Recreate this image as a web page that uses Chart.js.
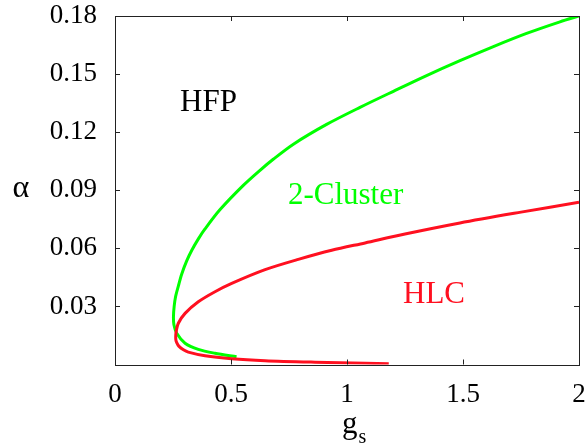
<!DOCTYPE html>
<html>
<head>
<meta charset="utf-8">
<script src="https://cdn.jsdelivr.net/npm/chart.js@4/dist/chart.umd.min.js"></script>
<style>
  html, body { margin: 0; padding: 0; background: #fff; }
  #wrap { width: 586px; height: 446px; position: relative; }
</style>
</head>
<body>
<div id="wrap"><canvas id="grafFase"></canvas></div>
<script>
// datos (g_s, alpha)
const xTicks = [0, 0.5, 1, 1.5, 2];
const yTicks = [0.03, 0.06, 0.09, 0.12, 0.15, 0.18];

const clusterGs = [0.524, 0.431, 0.359, 0.302, 0.266, 0.254, 0.252, 0.255, 0.261, 0.273, 0.287, 0.309, 0.331, 0.36, 0.388, 0.453, 0.553, 0.625, 0.682, 0.769, 0.912, 1.056, 1.2, 1.343, 1.487, 1.631, 1.774, 1.918, 2.0];
const clusterAlpha = [0.0040, 0.0058, 0.0078, 0.0110, 0.0161, 0.0205, 0.0247, 0.0300, 0.0350, 0.0405, 0.0465, 0.0535, 0.0590, 0.0650, 0.0700, 0.0800, 0.0925, 0.1003, 0.1060, 0.1138, 0.1240, 0.1328, 0.1411, 0.1492, 0.1569, 0.1642, 0.1710, 0.1770, 0.1800];

const hlcGs = [2.0, 1.75, 1.487, 1.25, 1.078, 0.934, 0.79, 0.647, 0.503, 0.431, 0.359, 0.302, 0.273, 0.263, 0.262, 0.266, 0.275, 0.295, 0.316, 0.388, 0.503, 0.647, 0.862, 1.078, 1.18];
const hlcAlpha = [0.0838, 0.0787, 0.0731, 0.0674, 0.0628, 0.0590, 0.0543, 0.0490, 0.0419, 0.0376, 0.0324, 0.0264, 0.0213, 0.0165, 0.0130, 0.0113, 0.0095, 0.0076, 0.0064, 0.0045, 0.0030, 0.0020, 0.0012, 0.0006, 0.0004];

const etiquetas = [
  { text: "HFP", x: 0.403, y: 0.1353, color: "#000" },
  { text: "2-Cluster", x: 0.994, y: 0.0870, color: "#00ff00" },
  { text: "HLC", x: 1.375, y: 0.0359, color: "#ff1020" },
];

const FONT = "'Liberation Serif', 'Times New Roman', serif";
const toPts = (xs, ys) => xs.map((x, i) => ({ x, y: ys[i] }));

// marco, ticks hacia adentro, etiquetas de regiones y titulo g_s
const marcoPlugin = {
  id: "marco",
  afterDraw(chart) {
    const { ctx, chartArea: a, scales } = chart;
    const sx = scales.x, sy = scales.y;
    ctx.save();
    ctx.strokeStyle = "#222";
    ctx.lineWidth = 1;
    ctx.beginPath();
    xTicks.forEach((v) => {
      const px = Math.round(sx.getPixelForValue(v)) + 0.5;
      ctx.moveTo(px, a.bottom); ctx.lineTo(px, a.bottom - 5);
      ctx.moveTo(px, a.top); ctx.lineTo(px, a.top + 5);
    });
    yTicks.forEach((v) => {
      const py = Math.round(sy.getPixelForValue(v)) + 0.5;
      ctx.moveTo(a.left, py); ctx.lineTo(a.left + 5, py);
      ctx.moveTo(a.right, py); ctx.lineTo(a.right - 5, py);
    });
    ctx.stroke();
    ctx.strokeRect(Math.round(a.left) + 0.5, Math.round(a.top) + 0.5,
      Math.round(a.right - a.left), Math.round(a.bottom - a.top));

    ctx.textAlign = "center";
    ctx.textBaseline = "middle";
    ctx.font = "31px " + FONT;
    etiquetas.forEach((e) => {
      ctx.fillStyle = e.color;
      ctx.fillText(e.text, sx.getPixelForValue(e.x), sy.getPixelForValue(e.y));
    });

    // titulos de ejes
    ctx.fillStyle = "#000";
    ctx.font = "32px " + FONT;
    ctx.fillText("\u03b1", 21, (a.top + a.bottom) / 2 - 2);
    const cx = (a.left + a.right) / 2;
    ctx.textAlign = "left";
    ctx.textBaseline = "alphabetic";
    ctx.font = "31px " + FONT;
    const wg = ctx.measureText("g").width;
    ctx.fillText("g", cx - 5, 433);
    ctx.font = "20px " + FONT;
    ctx.fillText("s", cx - 4 + wg, 443);
    ctx.restore();
  },
};

new Chart(document.getElementById("grafFase"), {
  type: "scatter",
  data: {
    datasets: [
      {
        label: "2-Cluster",
        data: toPts(clusterGs, clusterAlpha),
        showLine: true,
        borderColor: "#00ff00",
        borderWidth: 3,
        pointRadius: 0,
        tension: 0.3,
        order: 2,
      },
      {
        label: "HLC",
        data: toPts(hlcGs, hlcAlpha),
        showLine: true,
        borderColor: "#ff1020",
        borderWidth: 3,
        pointRadius: 0,
        tension: 0.3,
        order: 1,
      },
    ],
  },
  options: {
    responsive: true,
    maintainAspectRatio: false,
    animation: false,
    layout: { padding: { left: 0, right: 7, top: 16, bottom: 0 } },
    plugins: { legend: { display: false }, tooltip: { enabled: false } },
    scales: {
      x: {
        type: "linear",
        min: 0,
        max: 2,
        afterBuildTicks: (s) => { s.ticks = xTicks.map((v) => ({ value: v })); },
        afterFit: (s) => {
          s.height = 81.5;
          s.paddingLeft = 0; s.paddingRight = 0;
        },
        grid: { display: false, drawTicks: false },
        border: { display: false },
        ticks: {
          color: "#000",
          padding: 14,
          font: { family: FONT, size: 27 },
          callback: (v) => String(v),
        },
      },
      y: {
        type: "linear",
        min: 0,
        max: 0.18,
        afterBuildTicks: (s) => { s.ticks = [0].concat(yTicks).map((v) => ({ value: v })); },
        afterFit: (s) => {
          s.width = 115;
          s.paddingTop = 0; s.paddingBottom = 0;
        },
        grid: { display: false, drawTicks: false },
        border: { display: false },
        ticks: {
          color: "#000",
          padding: 18,
          font: { family: FONT, size: 27 },
          callback: (v) => (v === 0 ? "" : Number(v).toFixed(2)),
        },
      },
    },
  },
  plugins: [marcoPlugin],
});
</script>
</body>
</html>
